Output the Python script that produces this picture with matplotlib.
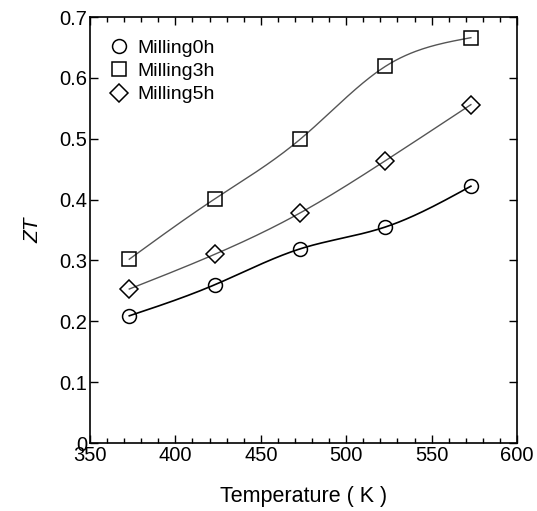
import numpy as np
import matplotlib
matplotlib.use("Agg")
import matplotlib.pyplot as plt
from matplotlib.ticker import MultipleLocator

plt.rcParams['font.family'] = ['Liberation Sans', 'DejaVu Sans']

temperature = [373, 423, 473, 523, 573]
milling0h = [0.209, 0.260, 0.319, 0.355, 0.422]
milling3h = [0.302, 0.401, 0.499, 0.619, 0.666]
milling5h = [0.253, 0.310, 0.378, 0.464, 0.556]
labels = ["Milling0h", "Milling3h", "Milling5h"]


def natural_spline(x, y, n=200):
    x = np.asarray(x, float); y = np.asarray(y, float)
    k = len(x)
    h = np.diff(x)
    A = np.zeros((k, k)); b = np.zeros(k)
    A[0, 0] = 1; A[-1, -1] = 1
    for i in range(1, k - 1):
        A[i, i - 1] = h[i - 1]
        A[i, i] = 2 * (h[i - 1] + h[i])
        A[i, i + 1] = h[i]
        b[i] = 3 * ((y[i + 1] - y[i]) / h[i] - (y[i] - y[i - 1]) / h[i - 1])
    c = np.linalg.solve(A, b)
    xs = np.linspace(x[0], x[-1], n)
    ys = np.empty_like(xs)
    for j, xv in enumerate(xs):
        i = min(np.searchsorted(x, xv, side='right') - 1, k - 2)
        dx = xv - x[i]
        bi = (y[i + 1] - y[i]) / h[i] - h[i] * (2 * c[i] + c[i + 1]) / 3
        di = (c[i + 1] - c[i]) / (3 * h[i])
        ys[j] = y[i] + bi * dx + c[i] * dx ** 2 + di * dx ** 3
    return xs, ys


fig = plt.figure(figsize=(5.37, 5.11), dpi=100)
ax = fig.add_axes([90 / 537, 1 - 443 / 511, 427 / 537, 426 / 511])

series = [milling0h, milling3h, milling5h]
markers = ['o', 's', 'D']
msizes = [10, 10, 9]
colors = ['black', '#555555', '#555555']
widths = [1.2, 1.0, 1.0]
for vals, m, ms, c, w, lab in zip(series, markers, msizes, colors, widths, labels):
    xs, ys = natural_spline(temperature, vals)
    ax.plot(xs, ys, color=c, lw=w, zorder=2)
    ax.plot(temperature, vals, linestyle='none', marker=m, ms=ms,
            mfc='none', mec='black', mew=1.1, label=lab, zorder=3)

ax.set_xlim(350, 600)
ax.set_ylim(0, 0.7)
ax.xaxis.set_major_locator(MultipleLocator(50))
ax.xaxis.set_minor_locator(MultipleLocator(10))
ax.set_yticks([0, 0.1, 0.2, 0.3, 0.4, 0.5, 0.6, 0.7])
ax.set_yticklabels(['0', '0.1', '0.2', '0.3', '0.4', '0.5', '0.6', '0.7'])
ax.tick_params(which='both', direction='in', top=True, right=True,
               labelsize=14.5, width=1)
ax.tick_params(which='major', length=5.5, pad=2)
ax.tick_params(which='minor', length=3.5)
for s in ax.spines.values():
    s.set_linewidth(1.2)

ax.set_xlabel('Temperature ( K )', fontsize=15.5, labelpad=15)
ax.set_ylabel('ZT', fontsize=15, style='italic', labelpad=12)

ax.legend(loc='upper left', frameon=False, fontsize=14, handletextpad=0.25,
          borderaxespad=0.4, labelspacing=0.3, handlelength=1.4,
          bbox_to_anchor=(0.0, 0.985))

fig.savefig('out.png', dpi=100)
